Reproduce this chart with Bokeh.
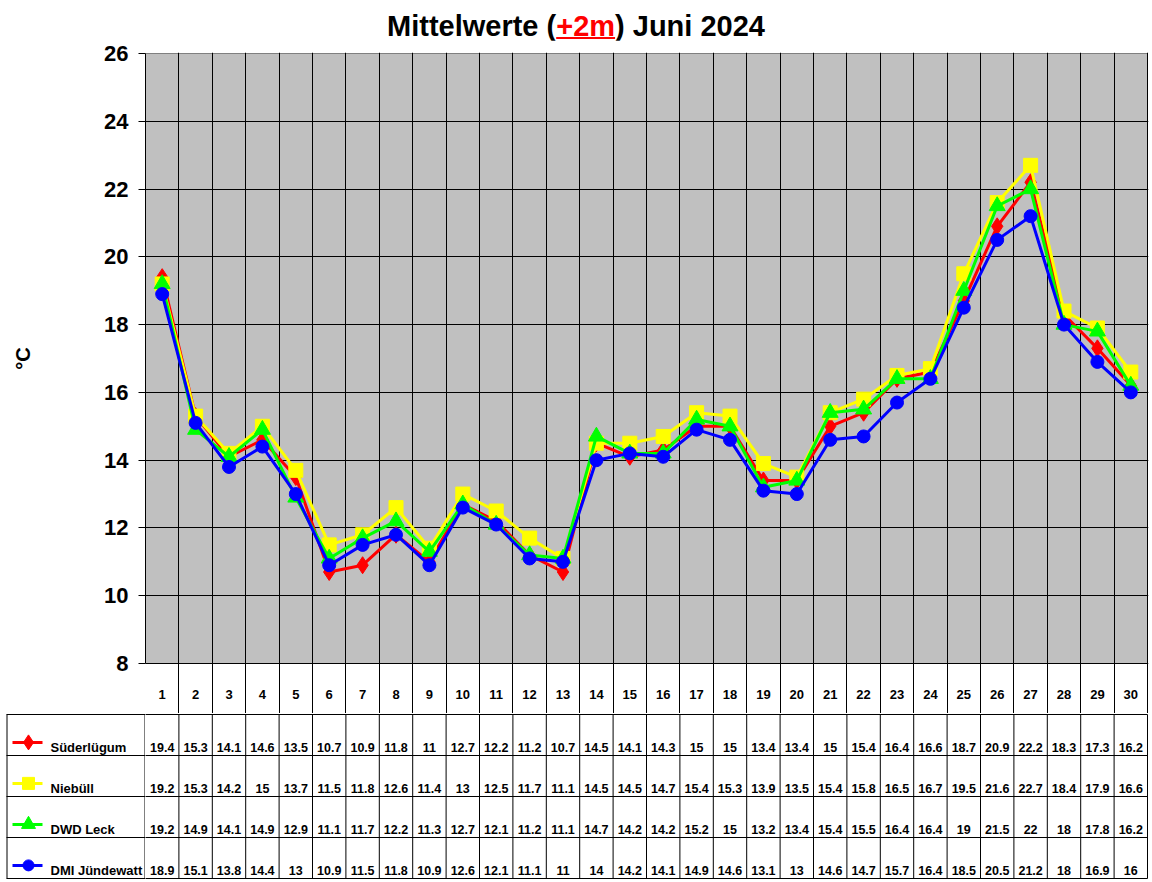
import math

from bokeh.plotting import figure
from bokeh.layouts import column, row
from bokeh.models import Div, Range1d, FixedTicker, ColumnDataSource
from bokeh.core.properties import value
from bokeh.embed import file_html
from bokeh.resources import INLINE

# --- data -------------------------------------------------------------
DAYS = list(range(1, 31))
Y_TICKS = [8, 10, 12, 14, 16, 18, 20, 22, 24, 26]

suederluegum = [19.4, 15.3, 14.1, 14.6, 13.5, 10.7, 10.9, 11.8, 11, 12.7,
                12.2, 11.2, 10.7, 14.5, 14.1, 14.3, 15, 15, 13.4, 13.4,
                15, 15.4, 16.4, 16.6, 18.7, 20.9, 22.2, 18.3, 17.3, 16.2]
niebuell = [19.2, 15.3, 14.2, 15, 13.7, 11.5, 11.8, 12.6, 11.4, 13,
            12.5, 11.7, 11.1, 14.5, 14.5, 14.7, 15.4, 15.3, 13.9, 13.5,
            15.4, 15.8, 16.5, 16.7, 19.5, 21.6, 22.7, 18.4, 17.9, 16.6]
dwd_leck = [19.2, 14.9, 14.1, 14.9, 12.9, 11.1, 11.7, 12.2, 11.3, 12.7,
            12.1, 11.2, 11.1, 14.7, 14.2, 14.2, 15.2, 15, 13.2, 13.4,
            15.4, 15.5, 16.4, 16.4, 19, 21.5, 22, 18, 17.8, 16.2]
dmi_juendewatt = [18.9, 15.1, 13.8, 14.4, 13, 10.9, 11.5, 11.8, 10.9, 12.6,
                  12.1, 11.1, 11, 14, 14.2, 14.1, 14.9, 14.6, 13.1, 13,
                  14.6, 14.7, 15.7, 16.4, 18.5, 20.5, 21.2, 18, 16.9, 16]

NAMES = ["Süderlügum", "Niebüll", "DWD Leck", "DMI Jündewatt"]
VALUES = [suederluegum, niebuell, dwd_leck, dmi_juendewatt]

# --- styles -----------------------------------------------------------
COLORS = ["#FF0000", "#FFFF00", "#00FF00", "#0000FF"]
MARKERS = ["diamond", "square", "triangle", "circle"]
SIZES = [17, 14, 16, 13]
FONT = value("Liberation Sans")

# pixel layout
W = 1152
LEFT_PX = 145
LAB_W = 40
COL_PX = 33.4
Y_PX = 610 / 18.0
HEADER_PX = 50
ROW_PX = 41
TITLE_H = 40
TOP_BORDER = 12

x_lo = 0.5
x_hi = len(DAYS) + 0.5 + 1 / COL_PX
frame_w = int(round((x_hi - x_lo) * COL_PX))
right_border = W - LEFT_PX - frame_w
y_min, y_max = Y_TICKS[0], Y_TICKS[-1]
p_h = TOP_BORDER + 1 + 610 + HEADER_PX
p_yr = Range1d(y_min - HEADER_PX / Y_PX, y_max + 1 / Y_PX)


def bare(fig):
    fig.outline_line_color = None
    fig.xgrid.visible = False
    fig.ygrid.visible = False
    return fig


# --- chart ------------------------------------------------------------
p = figure(width=W - LAB_W, height=p_h, tools="", toolbar_location=None,
           output_backend="svg", x_axis_location=None,
           x_range=Range1d(x_lo, x_hi), y_range=p_yr,
           min_border_left=LEFT_PX - LAB_W, min_border_right=right_border,
           min_border_top=TOP_BORDER, min_border_bottom=0,
           background_fill_color="white", border_fill_color="white")
p.outline_line_color = None

p.quad(left=[x_lo], right=[len(DAYS) + 0.5], bottom=[y_min], top=[y_max],
       fill_color="#C0C0C0", line_color="#808080", line_width=1, level="image")

p.ygrid.ticker = FixedTicker(ticks=Y_TICKS[:-1])
p.ygrid.grid_line_color = "black"
p.ygrid.grid_line_width = 1
p.xgrid.ticker = FixedTicker(ticks=[d + 0.5 for d in [0] + DAYS])
p.xgrid.grid_line_color = "black"
p.xgrid.grid_line_width = 1

ax = p.yaxis[0]
ax.ticker = FixedTicker(ticks=Y_TICKS)
ax.bounds = (y_min, y_max)
ax.axis_line_color = "black"
ax.major_tick_out = 7
ax.major_tick_in = 0
ax.minor_tick_line_color = None
ax.major_label_standoff = 10
ax.major_label_text_font = "Liberation Sans"
ax.major_label_text_font_style = "bold"
ax.major_label_text_font_size = "22px"
ax.major_label_text_color = "black"

for vals, col, mk, sz in zip(VALUES, COLORS, MARKERS, SIZES):
    p.line(DAYS, vals, line_color=col, line_width=3)
    p.scatter(DAYS, vals, marker=mk, size=sz, fill_color=col, line_color=col)

# day numbers in the header row
p.text(DAYS, [y_min - 31 / Y_PX] * len(DAYS), text=[str(d) for d in DAYS],
       text_font=FONT, text_font_style="bold", text_font_size="13px",
       text_align="center", text_baseline="middle", text_color="black")

# unit label strip, centred on the grey area
ylab = bare(figure(width=LAB_W, height=p_h, tools="", toolbar_location=None,
                   output_backend="svg", x_axis_location=None, y_axis_location=None,
                   x_range=Range1d(0, LAB_W), y_range=p_yr,
                   min_border_left=0, min_border_right=0,
                   min_border_top=TOP_BORDER, min_border_bottom=0,
                   background_fill_color="white", border_fill_color="white"))
ylab.text([22], [(y_min + y_max) / 2], text=["°C"], angle=math.pi / 2,
          text_font=FONT, text_font_style="bold", text_font_size="20px",
          text_align="center", text_baseline="middle", text_color="black")

# --- table ------------------------------------------------------------
n_rows = len(NAMES)
t_h = n_rows * ROW_PX + 2
t_yr = Range1d(n_rows + 1 / ROW_PX, -1 / ROW_PX)

t = bare(figure(width=W - LEFT_PX, height=t_h, tools="", toolbar_location=None,
                output_backend="svg", x_axis_location=None, y_axis_location=None,
                x_range=p.x_range, y_range=t_yr,
                min_border_left=0, min_border_right=right_border,
                min_border_top=0, min_border_bottom=0,
                background_fill_color="white", border_fill_color="white"))

vx = [d + 0.5 for d in DAYS]
t.segment(x0=vx, y0=[0] * len(vx), x1=vx, y1=[n_rows] * len(vx),
          line_color="black", line_width=1)
hy = list(range(n_rows + 1))
t.segment(x0=[x_lo - 1] * len(hy), y0=hy, x1=[len(DAYS) + 0.5] * len(hy), y1=hy,
          line_color="black", line_width=1)

# legend column, in pixel units
leg = bare(figure(width=LEFT_PX, height=t_h, tools="", toolbar_location=None,
                  output_backend="svg", x_axis_location=None, y_axis_location=None,
                  x_range=Range1d(0, LEFT_PX), y_range=t_yr,
                  min_border_left=0, min_border_right=0,
                  min_border_top=0, min_border_bottom=0,
                  background_fill_color="white", border_fill_color="white"))
leg.segment(x0=[6] * len(hy), y0=hy, x1=[LEFT_PX] * len(hy), y1=hy,
            line_color="black", line_width=1)
leg.segment(x0=[6.5, LEFT_PX - 0.5], y0=[0, 0], x1=[6.5, LEFT_PX - 0.5], y1=[n_rows, n_rows],
            line_color="black", line_width=1)

for i, (name, vals, col, mk, sz) in enumerate(zip(NAMES, VALUES, COLORS, MARKERS, SIZES)):
    src = ColumnDataSource(dict(x=DAYS, y=[i + 0.8] * len(DAYS),
                                txt=[f"{v:g}" for v in vals]))
    t.text("x", "y", text="txt", source=src, text_font=FONT, text_font_style="bold",
           text_font_size="12.5px", text_align="center", text_baseline="middle",
           text_color="black")
    leg.line([12, 42], [i + 0.68, i + 0.68], line_color=col, line_width=3)
    leg.scatter([28], [i + 0.68], marker=mk, size=sz - 2, fill_color=col, line_color=col)
    leg.text([50], [i + 0.8], text=[name], text_font=FONT, text_font_style="bold",
             text_font_size="13px", text_align="left", text_baseline="middle",
             text_color="black")

title = Div(text='<div style="font-family:\'Liberation Sans\';font-weight:bold;'
                 'font-size:29px;line-height:28px;padding-top:12px;text-align:center;'
                 'width:%dpx;color:black;white-space:nowrap">Mittelwerte (<span style="color:#FF0000;'
                 'text-decoration:underline;text-decoration-thickness:2px;'
                 'text-underline-offset:1px">+2m</span>) Juni 2024</div>' % W,
            width=W, height=TITLE_H, margin=(0, 0, 0, 0))

layout = column(title, row(ylab, p, spacing=0), row(leg, t, spacing=0), spacing=0)
open("out.html", "w").write(file_html(layout, INLINE))
